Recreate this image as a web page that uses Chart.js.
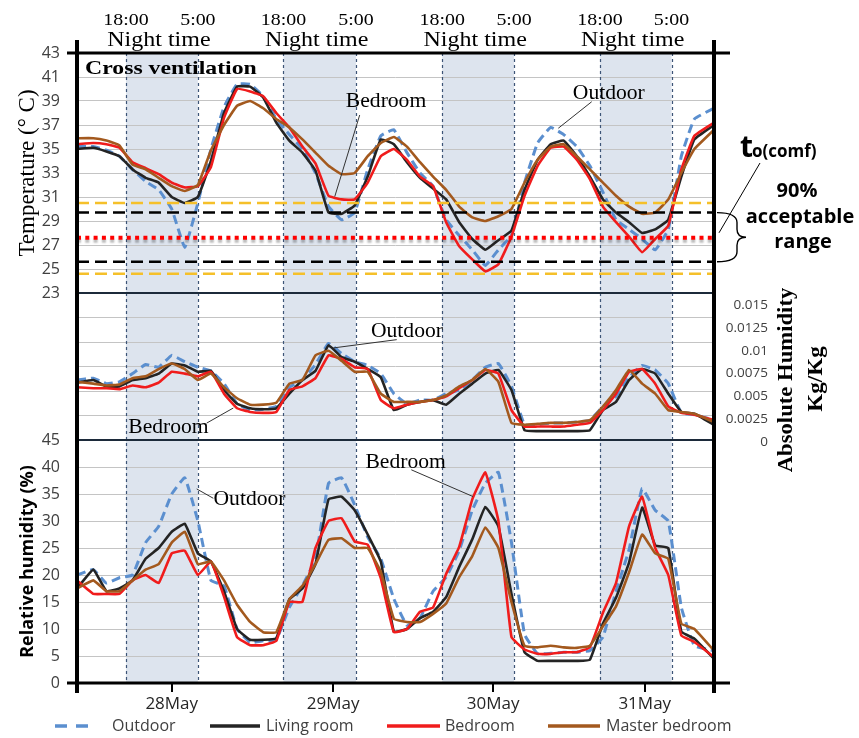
<!DOCTYPE html>
<html>
<head>
<meta charset="utf-8">
<title>Cross ventilation</title>
<script src="https://cdn.jsdelivr.net/npm/chart.js@4.4.1/dist/chart.umd.min.js"></script>
<style>
  html, body { margin: 0; padding: 0; background: #fff; }
  #wrap { position: relative; width: 859px; height: 738px; }
</style>
</head>
<body>
<div id="wrap"><canvas id="myChart"></canvas></div>
<script>
// time axis: hours counted from 27 May 00:00
const hours = [10.5, 13, 15, 17, 19, 21, 23, 25, 27, 29, 31, 33, 35, 37, 39, 41, 43, 45, 47, 49,
  51, 53, 55, 57, 59, 61, 63, 65, 67, 69, 71, 73, 75, 77, 79, 81, 83, 85, 87, 89,
  91, 93, 95, 97, 99, 101, 103, 105, 108];

const seriesNames = ["Outdoor", "Living room", "Bedroom", "Master bedroom"];

// temperature (°C)
const tempOutdoor = [35.2, 35.2, 34.9, 34.4, 33.3, 32.3, 31.6, 30.0, 26.8, 30.5, 35.0, 38.5, 40.4, 40.4, 39.4, 37.5, 36.2, 35.0, 33.0, 30.2,
  29.1, 29.7, 33.3, 36.1, 36.6, 34.7, 33.0, 31.9, 29.1, 27.8, 26.6, 25.3, 26.6, 27.8, 32.2, 35.5, 36.8, 36.2, 35.2, 33.6,
  31.4, 29.1, 28.3, 27.5, 26.6, 28.3, 34.4, 37.5, 38.4];
const tempLiving = [35.0, 35.1, 34.8, 34.4, 33.3, 32.6, 32.2, 31.0, 30.5, 31.0, 34.0, 38.0, 40.2, 40.2, 39.3, 37.2, 35.7, 34.7, 33.2, 29.7,
  29.6, 30.3, 32.7, 35.8, 35.4, 33.9, 32.6, 31.7, 30.8, 28.9, 27.5, 26.6, 27.4, 28.2, 31.6, 34.1, 35.4, 35.7, 34.4, 32.7,
  30.8, 29.7, 28.9, 28.0, 28.3, 29.1, 32.7, 35.8, 37.0];
const tempBed = [35.4, 35.5, 35.4, 35.1, 33.9, 33.4, 32.9, 32.2, 31.8, 31.9, 33.5, 37.6, 40.0, 39.8, 39.4, 38.0, 36.8, 35.2, 33.8, 31.1,
  30.8, 30.8, 32.2, 34.4, 35.0, 34.1, 32.7, 31.9, 28.9, 26.9, 25.8, 24.8, 25.4, 27.7, 31.1, 33.6, 35.1, 35.2, 34.1, 32.5,
  30.2, 28.9, 27.7, 26.4, 27.5, 28.6, 33.3, 36.1, 37.2];
const tempMaster = [35.9, 35.9, 35.7, 35.3, 33.7, 33.3, 32.6, 31.9, 31.5, 32.0, 34.9, 37.0, 38.6, 39.0, 38.4, 37.5, 36.8, 35.8, 34.7, 33.6,
  32.9, 33.0, 34.4, 35.5, 36.0, 35.2, 33.9, 32.7, 31.6, 30.2, 29.3, 29.0, 29.4, 30.0, 32.2, 34.1, 35.2, 35.4, 34.4, 33.3,
  32.2, 31.1, 30.2, 29.6, 29.7, 30.8, 33.0, 35.0, 36.6];

// absolute humidity (kg/kg)
const ahOutdoor = [0.0068, 0.0070, 0.0064, 0.0066, 0.0075, 0.0085, 0.0082, 0.0095, 0.0088, 0.0082, 0.0078, 0.0064, 0.0042, 0.0035, 0.0036, 0.0039, 0.0060, 0.0068, 0.0085, 0.0108,
  0.0097, 0.0088, 0.0084, 0.0075, 0.0053, 0.0042, 0.0046, 0.0046, 0.0053, 0.0057, 0.0068, 0.0082, 0.0086, 0.0061, 0.0019, 0.0019, 0.0021, 0.0021, 0.0022, 0.0024,
  0.0039, 0.0050, 0.0071, 0.0084, 0.0079, 0.0064, 0.0032, 0.0030, 0.0024];
const ahLiving = [0.0065, 0.0068, 0.0061, 0.0061, 0.0068, 0.0070, 0.0075, 0.0086, 0.0084, 0.0077, 0.0078, 0.0057, 0.0042, 0.0037, 0.0036, 0.0037, 0.0053, 0.0068, 0.0078, 0.0106,
  0.0093, 0.0088, 0.0080, 0.0071, 0.0035, 0.0041, 0.0044, 0.0046, 0.0041, 0.0053, 0.0064, 0.0075, 0.0079, 0.0057, 0.0013, 0.0012, 0.0012, 0.0012, 0.0012, 0.0013,
  0.0035, 0.0044, 0.0068, 0.0080, 0.0075, 0.0053, 0.0033, 0.0031, 0.0019];
const ahBed = [0.0060, 0.0059, 0.0059, 0.0058, 0.0062, 0.0060, 0.0065, 0.0077, 0.0075, 0.0072, 0.0077, 0.0053, 0.0037, 0.0033, 0.0032, 0.0033, 0.0057, 0.0061, 0.0070, 0.0095,
  0.0091, 0.0082, 0.0080, 0.0046, 0.0037, 0.0041, 0.0044, 0.0046, 0.0050, 0.0059, 0.0068, 0.0079, 0.0075, 0.0035, 0.0017, 0.0017, 0.0017, 0.0017, 0.0019, 0.0021,
  0.0035, 0.0053, 0.0077, 0.0080, 0.0064, 0.0039, 0.0032, 0.0030, 0.0024];
const ahMaster = [0.0066, 0.0064, 0.0062, 0.0063, 0.0070, 0.0072, 0.0080, 0.0086, 0.0080, 0.0068, 0.0075, 0.0060, 0.0048, 0.0041, 0.0041, 0.0043, 0.0064, 0.0068, 0.0095, 0.0100,
  0.0089, 0.0077, 0.0077, 0.0053, 0.0044, 0.0044, 0.0044, 0.0046, 0.0051, 0.0061, 0.0068, 0.0080, 0.0066, 0.0021, 0.0019, 0.0020, 0.0021, 0.0021, 0.0022, 0.0024,
  0.0039, 0.0057, 0.0079, 0.0064, 0.0053, 0.0035, 0.0033, 0.0031, 0.0022];

// relative humidity (%)
const rhOutdoor = [20, 21, 18.5, 19.5, 20, 26, 29, 35, 38, 30, 19, 18, 10, 7.5, 7.8, 8, 14, 18, 23, 37,
  38, 33, 27, 23, 15.6, 10.7, 12, 17, 19.6, 24.5, 32, 37, 39, 26, 9, 5.4, 5.5, 5.7, 5.7, 6,
  8.5, 17, 24.7, 36, 32, 30, 14, 6.9, 6];
const rhLiving = [17.5, 21, 17, 17.5, 19, 23, 25, 28, 29.5, 24, 22.5, 17, 10, 8, 8, 8.3, 15.5, 17.5, 22, 34,
  34.5, 32, 27.5, 22.5, 9.5, 10, 12, 13.2, 15.9, 21.5, 26.6, 32.6, 29, 16.5, 5.7, 4.1, 4.1, 4.1, 4.1, 4.3,
  11, 15.8, 22.3, 32.5, 25.5, 25, 9.5, 8.2, 4.5];
const rhBed = [19, 16.5, 16.5, 16.5, 19, 20, 18.5, 24, 24.5, 20, 22.5, 16, 8.5, 7, 7, 7.8, 15, 15, 25, 30,
  30.5, 26.2, 25.6, 19.4, 9.4, 10, 13.2, 14, 20.2, 25.2, 34, 39, 30, 8.5, 6.2, 5.4, 5.4, 5.7, 5.7, 6.6,
  13, 18.5, 29, 34.5, 25, 20, 8.8, 7.6, 4.8];
const rhMaster = [17.5, 19, 17, 17, 19, 21, 22, 26, 28, 22, 22.5, 19, 14.5, 11.3, 9.4, 9.4, 15.5, 18, 22, 26.5,
  26.8, 25, 25, 20.6, 11.9, 11.3, 11.3, 12.8, 14.7, 19.6, 23.5, 28.8, 25, 15, 6.9, 6.6, 6.9, 6.6, 6.5, 6.9,
  10.5, 14.2, 20.5, 27.5, 24, 23, 11, 10, 6];

// comfort temperature and acceptable ranges
const tComf = 27.6;
const range90 = [25.6, 29.7];
const rangeOuter = [24.6, 30.5];

// night periods (18:00 - 5:00) and date ticks
const nightStart = [18, 42.1, 66.4, 90.55];
const nightEnd = [29, 53.2, 77.4, 101.5];
const dateTickHours = [25, 49.7, 74.2, 97.4];
const dateLabels = ["28May", "29May", "30May", "31May"];
const ahTicks = [0, 0.0025, 0.005, 0.0075, 0.01, 0.0125, 0.015];
const xRange = [10.5, 108];

const seriesColors = ["#5b8fcf", "#242424", "#f01c1c", "#a3591e"];
const seriesDash = [[9, 5], [], [], []];

// labels with leader lines, in data coordinates
const callouts = [
  { text: "Bedroom", axis: "yT", at: [57.8, 38.47], from: [53.77, 37.83], to: [49.95, 31.03] },
  { text: "Outdoor", axis: "yT", at: [91.9, 39.14], from: [89.28, 38.94], to: [84.17, 36.73] },
  { text: "Outdoor", axis: "yAH", at: [61.0, 0.01151], from: [59.44, 0.01122], to: [49.73, 0.01031] },
  { text: "Bedroom", axis: "yAH", at: [24.5, 0.00099], from: [30.35, 0.00208], to: [34.42, 0.00373] },
  { text: "Outdoor", axis: "yRH", at: [36.9, 32.97], from: [31.36, 34.21], to: [28.82, 35.94] },
  { text: "Bedroom", axis: "yRH", at: [60.8, 39.9], from: [61.67, 39.48], to: [71.11, 34.53] }
];

const toPoints = vals => hours.map((h, i) => ({ x: h, y: vals[i] }));
const flat = v => [{ x: xRange[0], y: v }, { x: xRange[1], y: v }];

const datasets = [
  { label: "to(comf)", data: flat(tComf), yAxisID: "yT", borderColor: "#ff0000", borderDash: [4, 4.3], borderWidth: 4, order: 0, shadowBelow: true },
  { label: "90% upper", data: flat(range90[1]), yAxisID: "yT", borderColor: "#000", borderDash: [12, 6], borderWidth: 2.5, order: 0 },
  { label: "90% lower", data: flat(range90[0]), yAxisID: "yT", borderColor: "#000", borderDash: [12, 6], borderWidth: 2.5, order: 0 },
  { label: "upper", data: flat(rangeOuter[1]), yAxisID: "yT", borderColor: "#f5c02a", borderDash: [12, 6], borderWidth: 2.5, order: 0 },
  { label: "lower", data: flat(rangeOuter[0]), yAxisID: "yT", borderColor: "#f5c02a", borderDash: [12, 6], borderWidth: 2.5, order: 0 }
];

const panels = [
  { axis: "yT", values: [tempOutdoor, tempLiving, tempBed, tempMaster] },
  { axis: "yAH", values: [ahOutdoor, ahLiving, ahBed, ahMaster] },
  { axis: "yRH", values: [rhOutdoor, rhLiving, rhBed, rhMaster] }
];
panels.forEach(p => {
  p.values.forEach((vals, k) => {
    datasets.push({
      label: seriesNames[k],
      data: toPoints(vals),
      yAxisID: p.axis,
      borderColor: seriesColors[k],
      borderDash: seriesDash[k],
      borderWidth: k === 0 ? 3 : 2.6,
      tension: 0.1,
      order: 4 - k
    });
  });
});

function drawText(ctx, str, x, y, font, opts = {}) {
  ctx.save();
  ctx.font = font;
  ctx.fillStyle = opts.color || "#000";
  ctx.textAlign = opts.align || "center";
  ctx.textBaseline = opts.baseline || "alphabetic";
  ctx.translate(x, y);
  if (opts.rotate) ctx.rotate(opts.rotate);
  ctx.scale(opts.sx || 1, 1);
  ctx.fillText(str, 0, 0);
  ctx.restore();
}

function line(ctx, x0, y0, x1, y1, color, width) {
  ctx.beginPath();
  ctx.strokeStyle = color;
  ctx.lineWidth = width;
  ctx.moveTo(x0, y0);
  ctx.lineTo(x1, y1);
  ctx.stroke();
}

const decor = {
  id: "decor",
  beforeDraw(chart) {
    const { ctx, chartArea: a, scales: { x } } = chart;
    ctx.save();
    ctx.fillStyle = "#fff";
    ctx.fillRect(0, 0, chart.width, chart.height);
    ctx.fillStyle = "#dde4ee";
    nightStart.forEach((s, i) => {
      const x0 = x.getPixelForValue(s), x1 = x.getPixelForValue(nightEnd[i]);
      ctx.fillRect(x0, a.top, x1 - x0, a.bottom - a.top);
    });
    ctx.restore();
  },
  beforeDatasetsDraw(chart) {
    const { ctx, chartArea: a, scales: { x } } = chart;
    ctx.save();
    ctx.setLineDash([3, 3]);
    nightStart.concat(nightEnd).forEach(h => {
      const px = Math.round(x.getPixelForValue(h)) + 0.5;
      line(ctx, px, a.top, px, a.bottom, "#3d5577", 1.2);
    });
    ctx.restore();
  },
  beforeDatasetDraw(chart, args) {
    if (chart.data.datasets[args.index].shadowBelow) {
      const ctx = chart.ctx;
      ctx.save();
      ctx.shadowColor = "rgba(0,0,0,0.28)";
      ctx.shadowOffsetY = 3;
      ctx.shadowBlur = 2;
    }
  },
  afterDatasetDraw(chart, args) {
    if (chart.data.datasets[args.index].shadowBelow) chart.ctx.restore();
  },
  afterDraw(chart) {
    const { ctx, chartArea: a, scales } = chart;
    const { x, yT, yRH } = scales;
    ctx.save();

    // frame and panel dividers
    line(ctx, a.left, yT.bottom, a.right, yT.bottom, "#1c2a3a", 2);
    line(ctx, a.left, yRH.top, a.right, yRH.top, "#1c2a3a", 2);
    line(ctx, a.left - 10, a.top, a.right + 16, a.top, "#000", 3);
    line(ctx, a.left - 10, a.bottom, a.right + 16, a.bottom, "#000", 3);
    line(ctx, a.left, a.top - 13, a.left, a.bottom + 10, "#000", 4);
    line(ctx, a.right, a.top - 13, a.right, a.bottom + 10, "#000", 4);

    // night time labels
    const serif = "Liberation Serif";
    nightStart.forEach((s, i) => {
      const x0 = x.getPixelForValue(s), x1 = x.getPixelForValue(nightEnd[i]);
      drawText(ctx, "18:00", x0, 25, `17px "${serif}"`, { sx: 1.17 });
      drawText(ctx, "5:00", x1, 25, `17px "${serif}"`, { sx: 1.17 });
      drawText(ctx, "Night time", (x0 + x1) / 2 - 3, 46, `20px "${serif}"`, { sx: 1.2 });
    });
    drawText(ctx, "Cross ventilation", a.left + 8, 74, `bold 19px "${serif}"`, { align: "left", sx: 1.25 });

    // callouts
    callouts.forEach(c => {
      const ys = scales[c.axis];
      line(ctx, x.getPixelForValue(c.from[0]), ys.getPixelForValue(c.from[1]),
        x.getPixelForValue(c.to[0]), ys.getPixelForValue(c.to[1]), "#333", 1);
      drawText(ctx, c.text, x.getPixelForValue(c.at[0]), ys.getPixelForValue(c.at[1]), `20px "${serif}"`, { sx: 1.08 });
    });

    // comfort annotation on the right
    const r = a.right;
    const yTop = yT.getPixelForValue(range90[1]), yBot = yT.getPixelForValue(range90[0]);
    const yMidB = (yTop + yBot) / 2;
    ctx.beginPath();
    ctx.strokeStyle = "#000";
    ctx.lineWidth = 1.4;
    ctx.moveTo(r + 3, yTop);
    ctx.quadraticCurveTo(r + 23, yTop, r + 23, yTop + 10);
    ctx.lineTo(r + 23, yMidB - 8);
    ctx.quadraticCurveTo(r + 23, yMidB, r + 32, yMidB);
    ctx.quadraticCurveTo(r + 23, yMidB, r + 23, yMidB + 8);
    ctx.lineTo(r + 23, yBot - 10);
    ctx.quadraticCurveTo(r + 23, yBot, r + 3, yBot);
    ctx.stroke();
    line(ctx, r + 46, 163, r + 5, yT.getPixelForValue(tComf) - 5, "#000", 1);
    drawText(ctx, "t", r + 26, 157, 'bold 30px "Open Sans"', { align: "left" });
    drawText(ctx, "o(comf)", r + 38, 157, 'bold 17px "Open Sans"', { align: "left" });
    drawText(ctx, "90%", r + 83, 197, 'bold 20px "Open Sans"');
    drawText(ctx, "acceptable", r + 86, 223, 'bold 20px "Open Sans"');
    drawText(ctx, "range", r + 89, 248, 'bold 20px "Open Sans"');

    // right axis title
    drawText(ctx, "Absolute Humidity", 787, 380, `bold 21px "${serif}"`, { rotate: -Math.PI / 2, baseline: "middle", sx: 1.08 });
    drawText(ctx, "Kg/Kg", 817, 379, `bold 21px "${serif}"`, { rotate: -Math.PI / 2, baseline: "middle", sx: 1.1 });

    // legend
    const legY = 726;
    const lineX = [55, 210, 387, 548], lineLen = [33, 50, 53, 52], textX = [112, 266, 445, 606];
    seriesNames.forEach((name, k) => {
      ctx.save();
      ctx.setLineDash(k === 0 ? [12, 9] : []);
      line(ctx, lineX[k], legY, lineX[k] + lineLen[k], legY, seriesColors[k], 3.5);
      ctx.restore();
      drawText(ctx, name, textX[k], legY, '16px "Open Sans"', { align: "left", baseline: "middle", color: "#404040" });
    });
    ctx.restore();
  }
};

const tickFont = { family: "Open Sans", size: 16 };
const gridColor = ends => c => ends.includes(c.tick.value) ? "rgba(0,0,0,0)" : "#c4c4c4";
const leftWidth = s => { s.width = 77; };
const rightWidth = s => { s.width = 54; };

new Chart(document.getElementById("myChart"), {
  type: "line",
  data: { datasets },
  options: {
    responsive: true,
    maintainAspectRatio: false,
    animation: false,
    events: [],
    layout: { padding: { top: 53, right: 91, bottom: 0, left: 0 } },
    elements: { point: { radius: 0 } },
    plugins: { legend: { display: false }, tooltip: { enabled: false } },
    scales: {
      x: {
        type: "linear", min: xRange[0], max: xRange[1],
        afterBuildTicks: s => { s.ticks = dateTickHours.map(v => ({ value: v })); },
        ticks: { callback: (v, i) => dateLabels[i], font: { family: "Open Sans", size: 17 }, color: "#262626", padding: 2, maxRotation: 0, autoSkip: false },
        grid: { drawOnChartArea: false, drawTicks: true, tickLength: 9, color: "#000", lineWidth: 2 },
        border: { display: false },
        afterFit: s => { s.height = 55; }
      },
      yRH: {
        type: "linear", position: "left", stack: "panels", stackWeight: 243, min: 0, max: 45,
        ticks: { stepSize: 5, font: tickFont, color: "#404040", padding: 17, autoSkip: false },
        grid: { color: gridColor([0, 45]), drawTicks: false },
        border: { display: false },
        title: { display: true, text: "Relative humidity (%)", font: { family: "Open Sans", size: 18, weight: "bold" }, color: "#000", padding: { top: 17 } },
        afterFit: leftWidth
      },
      yMid: {
        type: "linear", position: "left", stack: "panels", stackWeight: 147, min: 0, max: 6,
        ticks: { display: false, stepSize: 1 },
        grid: { color: gridColor([0, 6]), drawTicks: false },
        border: { display: false },
        afterFit: leftWidth
      },
      yT: {
        type: "linear", position: "left", stack: "panels", stackWeight: 240, min: 23, max: 43,
        ticks: { stepSize: 2, font: tickFont, color: "#404040", padding: 17, autoSkip: false },
        grid: { color: gridColor([23, 43]), drawTicks: false },
        border: { display: false },
        title: { display: true, text: "Temperature (° C)", font: { family: "Liberation Serif", size: 23 }, color: "#000", padding: { top: 14 } },
        afterFit: leftWidth
      },
      yRHR: {
        type: "linear", position: "right", stack: "panels", stackWeight: 243, min: 0, max: 1,
        ticks: { display: false }, grid: { display: false }, border: { display: false },
        afterFit: rightWidth
      },
      yAH: {
        type: "linear", position: "right", stack: "panels", stackWeight: 147, min: -0.0001, max: 0.016,
        afterBuildTicks: s => { s.ticks = ahTicks.map(v => ({ value: v })); },
        ticks: { callback: v => String(v), crossAlign: "far", padding: 12, font: { family: "Open Sans", size: 13.5 }, color: "#404040", autoSkip: false },
        grid: { display: false }, border: { display: false },
        afterFit: rightWidth
      },
      yTR: {
        type: "linear", position: "right", stack: "panels", stackWeight: 240, min: 0, max: 1,
        ticks: { display: false }, grid: { display: false }, border: { display: false },
        afterFit: rightWidth
      }
    }
  },
  plugins: [decor]
});
</script>
</body>
</html>
